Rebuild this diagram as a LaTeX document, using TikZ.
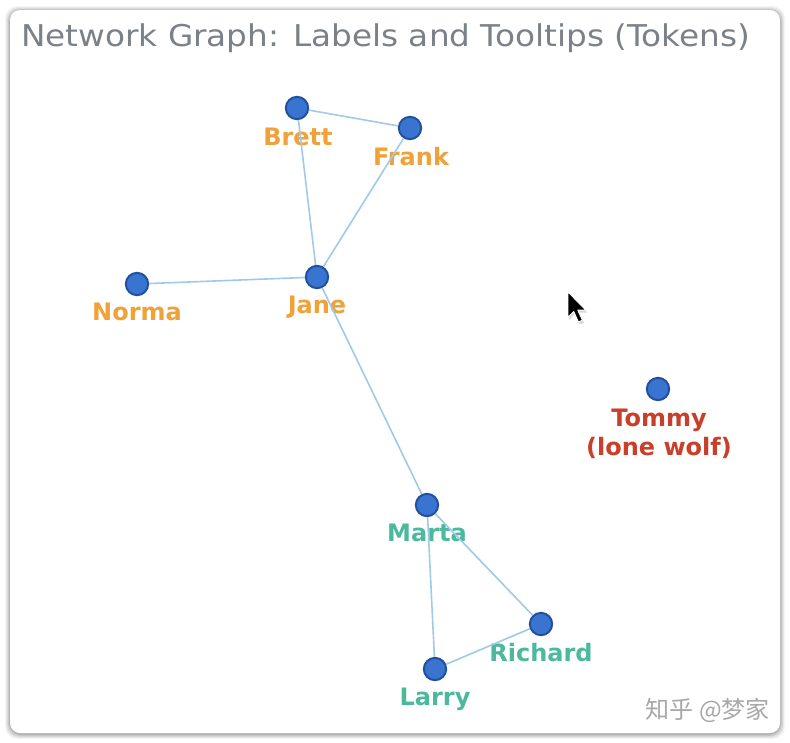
\documentclass[tikz,border=0pt]{standalone}
\usepackage{fontspec}
\setmainfont{DejaVu Sans}
\newfontfamily\cjkfont{Noto Sans CJK SC}
\definecolor{titlegray}{HTML}{7B8188}
\definecolor{orangelab}{HTML}{EFA23A}
\definecolor{teallab}{HTML}{4CB89E}
\definecolor{redlab}{HTML}{C8402A}
\definecolor{nodefill}{HTML}{3874D0}
\definecolor{nodeborder}{HTML}{22509C}
\definecolor{edgeblue}{HTML}{A0CAE8}
\definecolor{wmgray}{HTML}{A8A8A8}
\tikzset{
  vertex/.style={circle, fill=nodefill, draw=nodeborder, line width=1.3pt, minimum size=23pt, inner sep=0pt},
  link/.style={draw=edgeblue, line width=1.6pt},
  lab/.style={font=\bfseries\fontsize{24}{28}\selectfont, anchor=base, inner sep=0pt, align=center},
}
\begin{document}
\begin{tikzpicture}[x=1pt,y=-1pt]
\useasboundingbox (0,0) rectangle (790,742);
\fill[white] (0,0) rectangle (790,742);
% card shadow
\foreach \o/\a in {5/0.04,4/0.05,3/0.06,2/0.08,1/0.1}{
  \fill[black, opacity=\a, rounded corners=12pt] (10-\o,10-\o+1) rectangle (780+\o,733+\o+1);
}
\fill[white, rounded corners=10pt] (10,10) rectangle (780,733);
% title
\node[anchor=base west, inner sep=0pt, text=titlegray, font=\fontsize{30}{34}\selectfont] (title) at (21,46) {\scalebox{1.09}[1]{Network Graph: Labels and Tooltips (Tokens)}};
% node coordinates
\coordinate (pB) at (297,108);
\coordinate (pF) at (410,128);
\coordinate (pJ) at (317,277);
\coordinate (pN) at (137,284);
\coordinate (pM) at (427,505);
\coordinate (pR) at (541,624);
\coordinate (pL) at (435,669);
\coordinate (pT) at (658,389);
% labels
\node[lab, text=orangelab] (lB) at (298,145) {Brett};
\node[lab, text=orangelab] (lF) at (411,165) {Frank};
\node[lab, text=orangelab] (lJ) at (317,313) {Jane};
\node[lab, text=orangelab] (lN) at (137,320) {Norma};
\node[lab, text=teallab] (lM) at (427,541) {Marta};
\node[lab, text=teallab] (lR) at (541,661) {Richard};
\node[lab, text=teallab] (lL) at (435,705) {Larry};
\node[lab, text=redlab] (lT1) at (659,426) {Tommy};
\node[lab, text=redlab] (lT2) at (659,455) {(lone wolf)};
% vertices
\node[vertex] (B) at (pB) {};
\node[vertex] (F) at (pF) {};
\node[vertex] (J) at (pJ) {};
\node[vertex] (N) at (pN) {};
\node[vertex] (M) at (pM) {};
\node[vertex] (R) at (pR) {};
\node[vertex] (L) at (pL) {};
\node[vertex] (T) at (pT) {};
% edges
\draw[link] (B) -- (F);
\draw[link] (B) -- (J);
\draw[link] (F) -- (J);
\draw[link] (N) -- (J);
\draw[link] (J) -- (M);
\draw[link] (M) -- (R);
\draw[link] (M) -- (L);
\draw[link] (R) -- (L);
% redraw vertices on top
\foreach \p in {pB,pF,pJ,pN,pM,pR,pL,pT}{
  \fill[nodefill] (\p) circle (10.8pt);
  \draw[nodeborder, line width=1.3pt] (\p) circle (10.8pt);
}
% cursor
\coordinate (cur) at (568,292);
\begin{scope}[shift={(cur)}, scale=1.15]
\fill[black, opacity=0.15] (1,2) -- (1,24) -- (6,19) -- (10,28) -- (14,27) -- (10,18) -- (17,18) -- cycle;
\filldraw[fill=black, draw=white, line width=0.9pt, line join=round] (0,0) -- (0,22) -- (5,17) -- (9,26) -- (12.5,24.5) -- (8.5,15.8) -- (15.5,15.8) -- cycle;
\end{scope}
% watermark
\node[anchor=base east, inner sep=0pt, text=wmgray, font=\cjkfont\fontsize{24}{28}\selectfont] (wm) at (770,718) {知乎 @梦家};
\end{tikzpicture}
\end{document}
